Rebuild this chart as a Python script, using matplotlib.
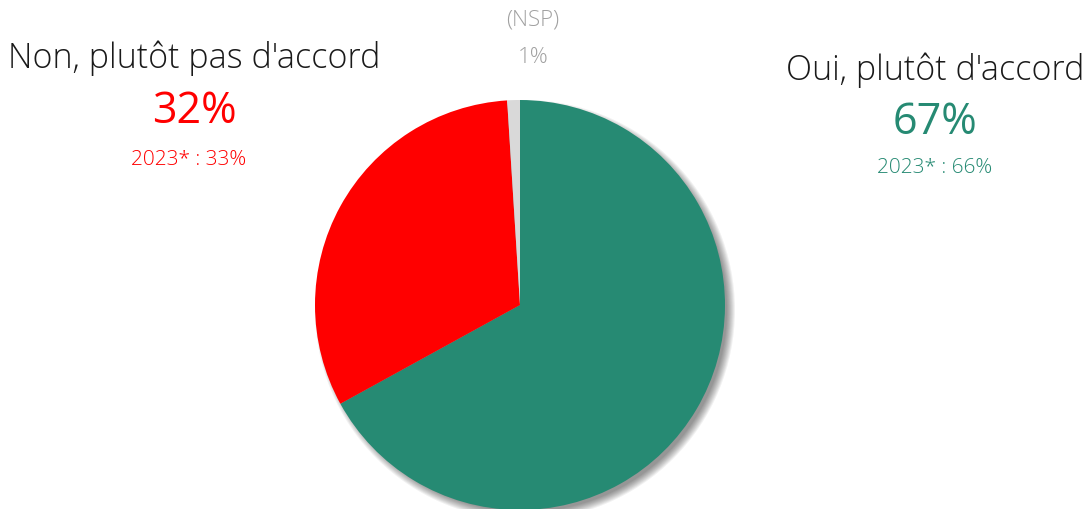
import matplotlib

matplotlib.use("Agg")
import matplotlib.pyplot as plt
from matplotlib.patches import Circle

labels = ["Oui, plutôt d'accord", "Non, plutôt pas d'accord", "(NSP)"]
values = [67, 32, 1]
prev_2023 = [66, 33, None]
colors = ["#268a73", "#ff0000", "#d9d9d9"]

W, H = 1088, 509
CX, CY, R = 520, H - 305, 205

plt.rcParams["font.family"] = ["Open Sans", "DejaVu Sans"]

fig = plt.figure(figsize=(W / 100, H / 100), dpi=100)
ax = fig.add_axes([0, 0, 1, 1])

# soft shadow behind the pie
for k in range(9):
    ax.add_patch(Circle((CX + 5, CY - 5), R + 5 - k, color="#000000", alpha=0.055, lw=0, zorder=1))

ax.pie(values, colors=colors, startangle=90, counterclock=False, center=(CX, CY), radius=R,
       wedgeprops=dict(linewidth=0, zorder=2), frame=True)
ax.set_xlim(0, W)
ax.set_ylim(0, H)
ax.set_aspect("equal")
ax.axis("off")

# left label
ax.text(194, H - 58, labels[1], ha="center", va="center", fontsize=24.5, color="#1a1a1a", fontweight="light")
ax.text(194, H - 112, f"{values[1]}%", ha="center", va="center", fontsize=31, color=colors[1])
ax.text(189, H - 160, f"2023* : {prev_2023[1]}%", ha="center", va="center", fontsize=15, color=colors[1], fontweight="light")

# right label
ax.text(935, H - 70, labels[0], ha="center", va="center", fontsize=24.5, color="#1a1a1a", fontweight="light")
ax.text(935, H - 123, f"{values[0]}%", ha="center", va="center", fontsize=31, color=colors[0])
ax.text(935, H - 168, f"2023* : {prev_2023[0]}%", ha="center", va="center", fontsize=15, color=colors[0], fontweight="light")

# NSP
ax.text(533, H - 20, labels[2], ha="center", va="center", fontsize=16, color="#a0a0a0", fontweight="light")
ax.text(533, H - 57, f"{values[2]}%", ha="center", va="center", fontsize=16, color="#a0a0a0", fontweight="light")

fig.savefig("out.png", dpi=100)
